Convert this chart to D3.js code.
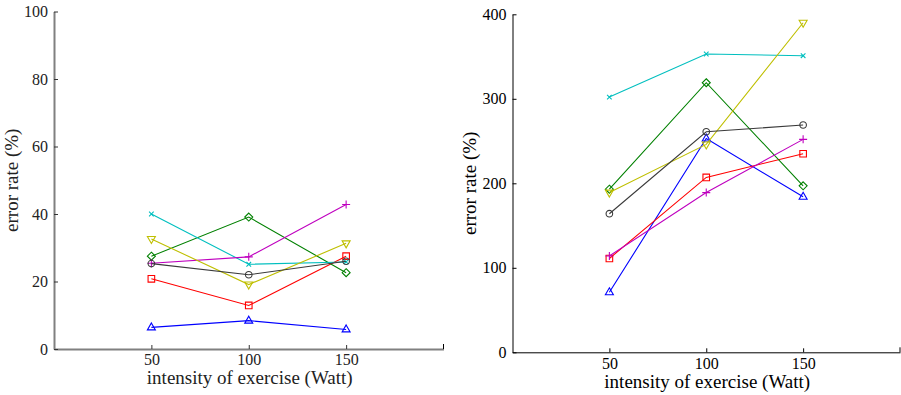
<!DOCTYPE html>
<html>
<head>
<meta charset="utf-8">
<script src="https://cdn.jsdelivr.net/npm/d3@7"></script>
<style>
  body { margin: 0; background: #fff; }
</style>
</head>
<body>
<div id="chart"></div>
<script>
// x values (Watt)
var intensity = [50, 100, 150];
var xTickValues = [50, 100, 150];

// left panel, error rate (%)
var leftBlue = [6.4, 8.4, 5.8];
var leftRed = [20.8, 12.9, 27.5];
var leftGreen = [27.5, 39.1, 22.6];
var leftCyan = [40, 25.1, 25.8];
var leftMagenta = [25.4, 27.3, 42.8];
var leftYellow = [32.6, 19.1, 31.3];
var leftBlack = [25.3, 22, 26];
var leftYTicks = [0, 20, 40, 60, 80, 100];

// right panel, error rate (%)
var rightBlue = [71, 253, 184];
var rightRed = [111, 207, 235];
var rightGreen = [193, 319, 197];
var rightCyan = [302, 353, 351];
var rightMagenta = [114, 189, 252];
var rightYellow = [189, 246, 390];
var rightBlack = [164, 261, 269];
var rightYTicks = [0, 100, 200, 300, 400];

var svg = d3.select('#chart').append('svg')
    .attr('width', 901)
    .attr('height', 395);

// series styles: colour and marker
var styles = {
    blue: { color: '#0000ff', marker: 'triUp' },
    red: { color: '#ff0000', marker: 'square' },
    green: { color: '#008000', marker: 'diamond' },
    cyan: { color: '#00bfbf', marker: 'cross' },
    magenta: { color: '#bf00bf', marker: 'plus' },
    yellow: { color: '#bfbf00', marker: 'triDown' },
    black: { color: '#3a3a3a', marker: 'circle' }
};

function markerPath(type) {
    switch (type) {
        case 'triUp': return 'M0,-4.5L4,2.5L-4,2.5Z';
        case 'triDown': return 'M0,4.5L4,-2.5L-4,-2.5Z';
        case 'square': return 'M-3.3,-3.3H3.3V3.3H-3.3Z';
        case 'diamond': return 'M0,-4L4,0L0,4L-4,0Z';
        case 'cross': return 'M-2.3,-2.3L2.3,2.3M-2.3,2.3L2.3,-2.3';
        case 'plus': return 'M-4,0H4M0,-4V4';
        case 'circle': return 'M3.3,0A3.3,3.3 0 1,1 -3.3,0A3.3,3.3 0 1,1 3.3,0Z';
    }
}

var drawPanel = function (opts) {
    var xScale = d3.scaleLinear().domain([0, 200]).range([opts.x0, opts.x1]);
    var yScale = d3.scaleLinear().domain([0, opts.yMax]).range([opts.y0, opts.y1]);
    var g = svg.append('g').style('font-family', '"Liberation Serif", serif');

    // lines and markers
    var line = d3.line()
        .x(function (d, i) { return xScale(intensity[i]); })
        .y(function (d) { return yScale(d); });

    opts.series.forEach(function (s) {
        var st = styles[s.key];
        g.append('path')
            .attr('d', line(s.values))
            .attr('fill', 'none')
            .attr('stroke', st.color)
            .attr('stroke-width', 1.1);
        g.selectAll(null).data(s.values).enter().append('path')
            .attr('transform', function (d, i) {
                return 'translate(' + xScale(intensity[i]) + ',' + yScale(d) + ')';
            })
            .attr('d', markerPath(st.marker))
            .attr('fill', 'none')
            .attr('stroke', st.color)
            .attr('stroke-width', 1.1);
    });

    // axes, ticks point inwards
    var xAxis = d3.axisBottom(xScale).tickValues(xTickValues).tickSize(-4).tickPadding(5).tickSizeOuter(0);
    var yAxis = d3.axisLeft(yScale).tickValues(opts.yTicks).tickSize(-4).tickPadding(6).tickSizeOuter(0);

    var gx = g.append('g')
        .attr('transform', 'translate(0,' + opts.y0 + ')')
        .call(xAxis);
    var gy = g.append('g')
        .attr('transform', 'translate(' + opts.x0 + ',0)')
        .call(yAxis);

    [gx, gy].forEach(function (ax) {
        ax.attr('font-family', null).attr('font-size', 16);
        ax.select('.domain').attr('stroke', opts.axisColor).attr('stroke-width', opts.axisWidth);
        ax.selectAll('.tick line').attr('stroke', opts.tickColor);
        ax.selectAll('.tick text').attr('fill', opts.textColor);
    });

    // tick at the right end of the x axis
    gx.append('line')
        .attr('x1', xScale(200)).attr('x2', xScale(200))
        .attr('y1', 0).attr('y2', -5)
        .attr('stroke', '#000');

    // axis titles
    g.append('text')
        .attr('transform', 'translate(' + ((opts.x0 + opts.x1) / 2 + 1) + ',' + opts.xTitleY + ')')
        .attr('text-anchor', 'middle')
        .attr('fill', opts.textColor)
        .attr('font-size', 19)
        .text('intensity of exercise (Watt)');

    g.append('text')
        .attr('transform', 'translate(' + opts.yTitleX + ',' + ((opts.y0 + opts.y1) / 2) + ') rotate(-90)')
        .attr('text-anchor', 'middle')
        .attr('fill', opts.textColor)
        .attr('font-size', 19)
        .text('error rate (%)');
};

drawPanel({
    x0: 54, x1: 443.5, y0: 349, y1: 11.5, yMax: 100,
    yTicks: leftYTicks,
    axisColor: '#808080', axisWidth: 2, tickColor: '#333', textColor: '#222',
    xTitleY: 384, yTitleX: 18,
    series: [
        { key: 'blue', values: leftBlue },
        { key: 'red', values: leftRed },
        { key: 'green', values: leftGreen },
        { key: 'cyan', values: leftCyan },
        { key: 'magenta', values: leftMagenta },
        { key: 'yellow', values: leftYellow },
        { key: 'black', values: leftBlack }
    ]
});

drawPanel({
    x0: 512.5, x1: 900, y0: 352.3, y1: 14.3, yMax: 400,
    yTicks: rightYTicks,
    axisColor: '#000', axisWidth: 1, tickColor: '#000', textColor: '#000',
    xTitleY: 388, yTitleX: 476,
    series: [
        { key: 'blue', values: rightBlue },
        { key: 'red', values: rightRed },
        { key: 'green', values: rightGreen },
        { key: 'cyan', values: rightCyan },
        { key: 'magenta', values: rightMagenta },
        { key: 'yellow', values: rightYellow },
        { key: 'black', values: rightBlack }
    ]
});
</script>
</body>
</html>
